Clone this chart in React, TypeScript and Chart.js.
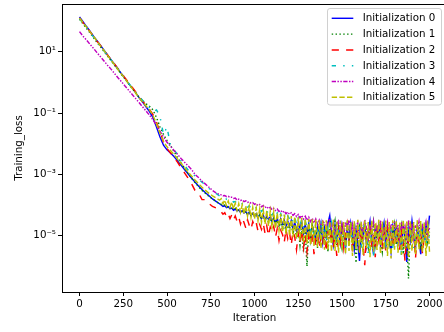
import React, { useEffect, useRef } from 'react';
import { Chart, registerables } from 'chart.js';

Chart.register(...registerables);

// Iteration numbers (x values): every 20 up to 800, then every 10
const iterations = [
  0, 20, 40, 60, 80, 100, 120, 140, 160, 180,
  200, 220, 240, 260, 280, 300, 320, 340, 360, 380,
  400, 420, 440, 460, 480, 500, 520, 540, 560, 580,
  600, 620, 640, 660, 680, 700, 720, 740, 760, 780,
  800,
  810, 820, 830, 840, 850, 860, 870, 880, 890, 900,
  910, 920, 930, 940, 950, 960, 970, 980, 990, 1000,
  1010, 1020, 1030, 1040, 1050, 1060, 1070, 1080, 1090, 1100,
  1110, 1120, 1130, 1140, 1150, 1160, 1170, 1180, 1190, 1200,
  1210, 1220, 1230, 1240, 1250, 1260, 1270, 1280, 1290, 1300,
  1310, 1320, 1330, 1340, 1350, 1360, 1370, 1380, 1390, 1400,
  1410, 1420, 1430, 1440, 1450, 1460, 1470, 1480, 1490, 1500,
  1510, 1520, 1530, 1540, 1550, 1560, 1570, 1580, 1590, 1600,
  1610, 1620, 1630, 1640, 1650, 1660, 1670, 1680, 1690, 1700,
  1710, 1720, 1730, 1740, 1750, 1760, 1770, 1780, 1790, 1800,
  1810, 1820, 1830, 1840, 1850, 1860, 1870, 1880, 1890, 1900,
  1910, 1920, 1930, 1940, 1950, 1960, 1970, 1980, 1990, 2000,
];

const loss0 = [
  135, 95, 66, 47, 32, 23, 16, 11.2, 7.9, 5.5,
  3.9, 2.75, 1.9, 1.35, 0.93, 0.66, 0.47, 0.32, 0.23, 0.16,
  0.112, 0.071, 0.035, 0.0166, 0.0089, 0.0063, 0.005, 0.0038, 0.00275, 0.002,
  0.00145, 0.00105, 0.00076, 0.00056, 0.00042, 0.00032, 0.00025, 0.0002, 0.000158, 0.000132,
  0.00011,
  1.0e-4, 9e-5, 9.5e-5, 8.2e-5, 8.8e-5, 7.6e-5, 8e-5, 6.8e-5, 7.4e-5, 6.5e-5,
  6.9e-5, 5.8e-5, 6.6e-5, 5.5e-5, 6.2e-5, 4.9e-5, 5.8e-5, 4.6e-5, 5.4e-5, 4.3e-5,
  5.2e-5, 3.8e-5, 4.9e-5, 3.6e-5, 4.7e-5, 3.2e-5, 4.4e-5, 3.4e-5, 4.1e-5, 2.9e-5,
  3.9e-5, 2.6e-5, 3.7e-5, 2.2e-5, 3.5e-5, 2.4e-5, 3.2e-5, 1.9e-5, 3e-5, 2.1e-5,
  3.1e-5, 1.6e-5, 2.8e-5, 1.4e-5, 2.6e-5, 1.7e-5, 2.9e-5, 1.2e-5, 2.4e-5, 1.1e-5,
  2.5e-5, 9e-6, 2.2e-5, 1.3e-5, 7e-6, 2.1e-5, 1e-5, 2.4e-5, 6e-6, 1.8e-5,
  9e-6, 2.6e-5, 4.5e-5, 1.1e-5, 5e-6, 2.2e-5, 8e-6, 1.9e-5, 6e-6, 2.3e-5,
  1.2e-5, 4e-6, 1.8e-5, 7e-6, 2.5e-5, 1e-5, 3.5e-6, 1.6e-5, 6e-6, 1.5e-6,
  1.9e-5, 8e-6, 2.6e-5, 5e-6, 1.4e-5, 3e-5, 7e-6, 2.5e-6, 1.7e-5, 9e-6,
  2.2e-5, 5e-6, 1.3e-5, 2.6e-5, 4e-6, 1.8e-5, 8e-6, 3e-6, 2e-5, 1.1e-5,
  2.4e-5, 6e-6, 1.5e-5, 3.5e-6, 2.1e-5, 9e-6, 1.4e-6, 1.6e-5, 7e-6, 3e-5,
  1e-5, 4e-6, 2e-5, 7e-6, 2.5e-6, 1.8e-5, 9e-6, 2.4e-5, 1.2e-5, 4.5e-5,
];

const loss1 = [
  115, 81, 58, 41, 29, 20, 14.5, 10.2, 7.2, 5.1,
  3.6, 2.6, 1.8, 1.3, 0.91, 0.65, 0.46, 0.33, 0.25, 0.2,
  0.166, 0.126, 0.071, 0.035, 0.02, 0.0126, 0.0089, 0.0056, 0.0035, 0.0024,
  0.0016, 0.00107, 0.00076, 0.00054, 0.0004, 0.0003, 0.00024, 0.00019, 0.000158, 0.000132,
  0.000112,
  1.05e-4, 9.5e-5, 1e-4, 8.6e-5, 9.2e-5, 7.8e-5, 8.5e-5, 7e-5, 7.8e-5, 6.6e-5,
  7.2e-5, 6e-5, 6.8e-5, 5.4e-5, 6.3e-5, 5e-5, 5.8e-5, 4.6e-5, 5.5e-5, 4.4e-5,
  5.2e-5, 3.9e-5, 4.8e-5, 3.5e-5, 4.5e-5, 3.1e-5, 4.1e-5, 2.8e-5, 3.8e-5, 2.5e-5,
  3.6e-5, 2.2e-5, 3.3e-5, 1.9e-5, 3e-5, 1.5e-5, 2.7e-5, 1.2e-5, 2.5e-5, 1.6e-5,
  2.6e-5, 1.1e-5, 2.2e-5, 8e-6, 1.9e-5, 5e-6, 1.7e-5, 3e-6, 1.4e-5, 1e-6,
  1.8e-5, 7e-6, 2.3e-5, 9e-6, 1.5e-5, 4e-6, 2e-5, 1.1e-5, 2.6e-5, 6e-6,
  1.7e-5, 3e-6, 2.1e-5, 8e-6, 1.3e-5, 2.9e-5, 5e-6, 1.6e-5, 9e-6, 4e-6,
  1.5e-5, 7e-6, 2.4e-5, 1e-5, 2.8e-5, 5e-6, 1.5e-5, 1.3e-6, 1.1e-5, 2e-5,
  6e-6, 1.8e-5, 2.3e-5, 8e-6, 4e-6, 1.6e-5, 1e-5, 2.7e-5, 5e-6, 1.3e-5,
  2.5e-5, 7e-6, 3e-6, 1.5e-5, 9e-6, 2.2e-5, 6e-6, 1.7e-5, 1.1e-5, 2.4e-5,
  5e-6, 1.6e-5, 8e-6, 2e-5, 2.5e-6, 1.3e-5, 7e-6, 4e-7, 1.5e-5, 1e-5,
  2.1e-5, 5e-6, 1.4e-5, 2e-5, 3.5e-6, 1.2e-5, 8e-6, 1.8e-5, 6e-6, 1.3e-5,
];

const loss2 = [
  126, 89, 63, 45, 32, 22, 16, 11.2, 7.9, 5.6,
  4.0, 2.8, 2.0, 1.4, 1.0, 0.71, 0.5, 0.35, 0.25, 0.18,
  0.13, 0.089, 0.05, 0.025, 0.0112, 0.007, 0.005, 0.0035, 0.0025, 0.00166,
  0.00112, 0.00076, 0.0005, 0.0003, 0.00025, 0.00015, 0.00015, 0.000112, 0.00009, 0.00008,
  0.000063,
  6e-5, 5e-5, 5.6e-5, 4.2e-5, 5.2e-5, 3.6e-5, 4.8e-5, 3.3e-5, 4.4e-5, 3e-5,
  4.1e-5, 2.4e-5, 3.7e-5, 2.7e-5, 1.8e-5, 3.3e-5, 2.2e-5, 1.6e-5, 2.9e-5, 2e-5,
  2.6e-5, 1.4e-5, 2.3e-5, 1.6e-5, 2.5e-5, 1.2e-5, 2.1e-5, 1e-5, 1.9e-5, 1.3e-5,
  2e-5, 9e-6, 1.7e-5, 7e-6, 1.5e-5, 1.1e-5, 6e-6, 1.6e-5, 8e-6, 1.3e-5,
  5e-6, 1.4e-5, 9e-6, 3.5e-6, 1.2e-5, 6e-6, 1.5e-5, 4e-6, 1.1e-5, 3e-6,
  1e-5, 5e-6, 1.3e-5, 2.5e-6, 8e-6, 1.2e-5, 4e-6, 9e-6, 6e-6, 1.1e-5,
  3e-6, 1.4e-5, 7e-6, 1.6e-5, 4e-6, 1.1e-5, 2.2e-6, 1.5e-5, 6e-6, 1.8e-5,
  4e-6, 1.2e-5, 2.5e-5, 7e-6, 1.5e-5, 3e-6, 1.9e-5, 6e-6, 1.3e-5, 3.5e-6,
  1.6e-5, 5e-6, 1.1e-6, 1.4e-5, 8e-6, 2.2e-5, 4e-6, 1.2e-5, 2e-6, 1.7e-5,
  7e-6, 2e-5, 5e-6, 1.3e-5, 3e-6, 1.8e-5, 8e-6, 1.5e-5, 4e-6, 1.2e-5,
  6e-6, 1.9e-5, 3.5e-6, 1.4e-5, 7e-6, 1.5e-6, 1.3e-5, 5e-6, 1.8e-5, 8e-6,
  1.5e-5, 1.8e-6, 1.1e-5, 6e-6, 1.4e-5, 2.5e-6, 1.2e-5, 7e-6, 1.6e-5, 1e-5,
];

const loss3 = [
  120, 85, 60, 43, 30, 21, 15, 10.7, 7.6, 5.4,
  3.8, 2.7, 1.9, 1.35, 0.95, 0.68, 0.48, 0.35, 0.26, 0.2,
  0.15, 0.112, 0.126, 0.076, 0.02, 0.035, 0.0089, 0.0063, 0.0045, 0.0028,
  0.002, 0.0014, 0.00112, 0.00089, 0.0007, 0.00056, 0.00045, 0.00035, 0.00028, 0.00024,
  0.0002,
  1.85e-4, 1.7e-4, 1.75e-4, 1.55e-4, 1.6e-4, 1.4e-4, 1.45e-4, 1.25e-4, 1.3e-4, 1.12e-4,
  1.2e-4, 1.02e-4, 1.1e-4, 9.2e-5, 1.02e-4, 8.6e-5, 9.4e-5, 7.8e-5, 8.8e-5, 7.6e-5,
  8.2e-5, 6.8e-5, 7.8e-5, 6.2e-5, 7.2e-5, 5.6e-5, 6.6e-5, 5.1e-5, 6.1e-5, 4.7e-5,
  5.8e-5, 4.3e-5, 5.5e-5, 3.9e-5, 5.2e-5, 3.6e-5, 4.8e-5, 3.3e-5, 4.5e-5, 3.5e-5,
  4.3e-5, 2.8e-5, 4e-5, 2.4e-5, 3.7e-5, 2.2e-5, 3.4e-5, 1.8e-5, 3e-5, 1.9e-5,
  2.9e-5, 1.4e-5, 2.7e-5, 1.1e-5, 2.5e-5, 1.6e-5, 9e-6, 2.4e-5, 1.3e-5, 2.1e-5,
  7e-6, 1.9e-5, 1.1e-5, 2.6e-5, 8e-6, 2e-5, 5e-6, 1.7e-5, 1e-5, 5e-6,
  1.6e-5, 3.5e-6, 2.1e-5, 9e-6, 1.4e-5, 7e-6, 2.3e-5, 5e-6, 1.2e-5, 1.7e-5,
  4e-6, 1.5e-5, 2.4e-5, 8e-6, 2.5e-6, 1.3e-5, 6e-6, 2.2e-6, 1.6e-5, 9e-6,
  1.9e-5, 6e-6, 2.6e-5, 1e-5, 5e-6, 1.6e-5, 8e-6, 2.1e-5, 4e-6, 1.4e-5,
  9e-6, 3.5e-6, 1.8e-5, 2e-6, 1.2e-5, 1.6e-5, 6e-6, 2.2e-5, 8e-6, 2e-5,
  4e-6, 1.4e-5, 1.2e-5, 7e-6, 2.5e-5, 8e-6, 1.8e-5, 5e-6, 2.4e-5, 7e-6,
];

const loss4 = [
  45, 32, 24, 17.4, 12.9, 9.3, 6.8, 5.0, 3.6, 2.7,
  1.95, 1.41, 1.05, 0.76, 0.56, 0.41, 0.3, 0.22, 0.16, 0.117,
  0.085, 0.06, 0.04, 0.025, 0.0166, 0.0112, 0.0083, 0.006, 0.0045, 0.0033,
  0.0025, 0.0019, 0.00145, 0.001, 0.00079, 0.0006, 0.00048, 0.00038, 0.0003, 0.00025,
  0.00022,
  2.15e-4, 2e-4, 2.05e-4, 1.88e-4, 1.92e-4, 1.78e-4, 1.8e-4, 1.65e-4, 1.7e-4, 1.45e-4,
  1.55e-4, 1.42e-4, 1.48e-4, 1.3e-4, 1.38e-4, 1.22e-4, 1.28e-4, 1.15e-4, 1.2e-4, 1.05e-4,
  1.12e-4, 9.6e-5, 1.05e-4, 8.8e-5, 9.6e-5, 8.2e-5, 9e-5, 7.6e-5, 8.4e-5, 7e-5,
  7.8e-5, 6.6e-5, 7.4e-5, 6.2e-5, 6.8e-5, 5.7e-5, 6.4e-5, 5.2e-5, 5.9e-5, 5e-5,
  5.6e-5, 4.6e-5, 5.2e-5, 4.2e-5, 4.9e-5, 3.8e-5, 4.6e-5, 3.5e-5, 4.3e-5, 3.2e-5,
  4e-5, 2.9e-5, 3.7e-5, 2.6e-5, 3.5e-5, 2.3e-5, 3.2e-5, 2.1e-5, 3e-5, 2.5e-5,
  1.8e-5, 2.9e-5, 3.6e-5, 1.5e-5, 2.6e-5, 1.2e-5, 2.4e-5, 3e-5, 1.4e-5, 2.2e-5,
  1e-5, 2.8e-5, 1.6e-5, 3.2e-5, 1.1e-5, 2.3e-5, 8e-6, 1.9e-5, 2.7e-5, 9e-6,
  2.5e-5, 1.3e-5, 3.3e-5, 1.8e-5, 8e-6, 2.4e-5, 1.2e-5, 2.9e-5, 1e-5, 2.2e-5,
  1.5e-5, 3.1e-5, 7e-6, 2e-5, 1.3e-5, 2.7e-5, 9e-6, 2.4e-5, 1.6e-5, 3e-5,
  1.1e-5, 2.3e-5, 7e-6, 2.8e-5, 1.4e-5, 2.1e-5, 9e-6, 3.2e-5, 1.2e-5, 2.5e-5,
  8e-6, 2.2e-5, 1.5e-5, 2.9e-5, 1e-5, 2.4e-5, 1.3e-5, 2.7e-5, 9e-6, 1.8e-5,
];

const loss5 = [
  126, 89, 63, 45, 32, 22, 15.5, 11, 7.6, 5.4,
  3.8, 2.6, 1.86, 1.32, 0.91, 0.65, 0.46, 0.32, 0.23, 0.17,
  0.126, 0.083, 0.045, 0.022, 0.012, 0.0079, 0.006, 0.0044, 0.0032, 0.0023,
  0.00166, 0.0012, 0.00089, 0.00066, 0.0005, 0.00038, 0.0003, 0.00024, 0.0002, 0.00017,
  0.000145,
  1.6e-4, 1.1e-4, 1.45e-4, 9.5e-5, 1.35e-4, 8.5e-5, 1.25e-4, 7.5e-5, 1.15e-4, 6.6e-5,
  1.1e-4, 5.8e-5, 1.02e-4, 5e-5, 9.5e-5, 4.4e-5, 9e-5, 3.9e-5, 8.4e-5, 3.5e-5,
  8e-5, 3.1e-5, 7.5e-5, 2.7e-5, 7e-5, 2.4e-5, 6.5e-5, 2.1e-5, 6.2e-5, 1.9e-5,
  5.9e-5, 1.7e-5, 5.6e-5, 1.5e-5, 5.2e-5, 1.3e-5, 4.9e-5, 1.15e-5, 4.6e-5, 1e-5,
  4.4e-5, 9e-6, 4.2e-5, 8e-6, 4e-5, 7e-6, 3.8e-5, 6e-6, 3.6e-5, 5.5e-6,
  3.5e-5, 5e-6, 3.4e-5, 4.6e-6, 3.3e-5, 4.2e-6, 3.2e-5, 3.8e-6, 3.1e-5, 3.5e-6,
  3.2e-5, 3.5e-6, 3e-5, 3e-6, 3.3e-5, 3.2e-6, 2.9e-5, 2.8e-6, 3.1e-5, 3.5e-6,
  2.8e-5, 2.5e-6, 3.2e-5, 3.2e-6, 2.7e-5, 2.2e-6, 3e-5, 3.8e-6, 3.3e-5, 2.8e-6,
  2.9e-5, 2.4e-6, 3.1e-5, 4e-6, 2.8e-5, 2e-6, 3.2e-5, 3e-6, 2.7e-5, 3.4e-6,
  3.3e-5, 2.6e-6, 2.9e-5, 3.6e-6, 3.1e-5, 2.2e-6, 2.8e-5, 1.8e-6, 3.2e-5, 3.5e-6,
  3e-5, 2.8e-6, 2.7e-5, 2.4e-6, 3.3e-5, 3.8e-6, 2.9e-5, 1.9e-6, 3.1e-5, 3.2e-6,
  2.8e-5, 2.5e-6, 3.2e-5, 3.6e-6, 3e-5, 2.9e-6, 2.7e-5, 2.2e-6, 3.1e-5, 3e-6,
];

const seriesValues = [loss0, loss1, loss2, loss3, loss4, loss5];
const seriesNames = [
  'Initialization 0',
  'Initialization 1',
  'Initialization 2',
  'Initialization 3',
  'Initialization 4',
  'Initialization 5',
];
const seriesColors = ['#0000ff', '#008000', '#ff0000', '#00bfbf', '#bf00bf', '#bfbf00'];
const seriesDashes = [
  [],
  [1.45, 2.4],
  [7.2, 7.2],
  [4.3, 7.2, 1.45, 7.2],
  [4.3, 1.45, 1.45, 1.45, 1.45, 1.45],
  [5.35, 2.3],
];

const xTicks = [0, 250, 500, 750, 1000, 1250, 1500, 1750, 2000];
const yTicks = [1e-5, 1e-3, 1e-1, 1e1];
const yTickLabels = ['10⁻⁵', '10⁻³', '10⁻¹', '10¹'];

const FONT_FAMILY = '"DejaVu Sans", sans-serif';
const FONT_SIZE = 10.3;

const decorPlugin = {
  id: 'decor',
  afterDraw(chart: any) {
    const { ctx, chartArea } = chart;
    const { left, right, top, bottom } = chartArea;
    ctx.save();
    ctx.strokeStyle = '#000';
    ctx.lineWidth = 1;
    ctx.setLineDash([]);
    ctx.beginPath();
    ctx.moveTo(left, Math.round(top) + 0.5);
    ctx.lineTo(right, Math.round(top) + 0.5);
    ctx.moveTo(Math.round(right) + 0.5, top);
    ctx.lineTo(Math.round(right) + 0.5, bottom);
    ctx.stroke();

    ctx.fillStyle = '#000';
    ctx.font = `${FONT_SIZE}px ${FONT_FAMILY}`;
    ctx.textAlign = 'center';
    ctx.textBaseline = 'middle';
    ctx.fillText('Iteration', (left + right) / 2, 318.7);
    ctx.save();
    ctx.translate(19.5, (top + bottom) / 2);
    ctx.rotate(-Math.PI / 2);
    ctx.fillText('Training_loss', 0, 0);
    ctx.restore();

    const bx = 327.5, by = 8.5, bw = 114, bh = 96.5, r = 2.5;
    ctx.beginPath();
    ctx.moveTo(bx + r, by);
    ctx.lineTo(bx + bw - r, by);
    ctx.arcTo(bx + bw, by, bx + bw, by + r, r);
    ctx.lineTo(bx + bw, by + bh - r);
    ctx.arcTo(bx + bw, by + bh, bx + bw - r, by + bh, r);
    ctx.lineTo(bx + r, by + bh);
    ctx.arcTo(bx, by + bh, bx, by + bh - r, r);
    ctx.lineTo(bx, by + r);
    ctx.arcTo(bx, by, bx + r, by, r);
    ctx.closePath();
    ctx.fillStyle = 'rgba(255,255,255,0.8)';
    ctx.fill();
    ctx.strokeStyle = '#d0d0d0';
    ctx.lineWidth = 1;
    ctx.stroke();

    ctx.textAlign = 'left';
    ctx.textBaseline = 'middle';
    for (let i = 0; i < seriesNames.length; i++) {
      const y = 18.3 + i * 15.8;
      ctx.strokeStyle = seriesColors[i];
      ctx.lineWidth = 1.45;
      ctx.setLineDash(seriesDashes[i]);
      ctx.beginPath();
      ctx.moveTo(331.7, y);
      ctx.lineTo(353.3, y);
      ctx.stroke();
      ctx.setLineDash([]);
      ctx.fillStyle = '#000';
      ctx.fillText(seriesNames[i], 362.7, y + 0.5);
    }
    ctx.restore();
  },
};

export default function App() {
  const canvasRef = useRef<HTMLCanvasElement | null>(null);

  useEffect(() => {
    const canvas = canvasRef.current;
    if (!canvas) return;
    const font = { family: FONT_FAMILY, size: FONT_SIZE };
    const chart = new Chart(canvas, {
      type: 'line',
      data: {
        datasets: seriesValues.map((vals, i) => ({
          label: seriesNames[i],
          data: iterations.map((x, j) => ({ x, y: vals[j] })),
          borderColor: seriesColors[i],
          backgroundColor: seriesColors[i],
          borderWidth: 1.45,
          borderDash: seriesDashes[i],
          pointRadius: 0,
          fill: false,
          tension: 0,
          order: 5 - i,
        })),
      },
      options: {
        animation: false,
        responsive: false,
        events: [],
        layout: { padding: { left: 0, right: 5, top: 4, bottom: 0 } },
        plugins: {
          legend: { display: false },
          tooltip: { enabled: false },
        },
        scales: {
          x: {
            type: 'linear',
            min: -100,
            max: 2100,
            afterFit: (s: any) => {
              s.height = 40;
              s.paddingLeft = 0;
              s.paddingRight = 0;
            },
            afterBuildTicks: (s: any) => {
              s.ticks = xTicks.map((v) => ({ value: v }));
            },
            ticks: {
              font,
              color: '#000',
              padding: 2,
              maxRotation: 0,
              autoSkip: false,
              callback: (v: any) => String(v),
            },
            grid: {
              drawOnChartArea: false,
              drawTicks: true,
              tickLength: 4,
              tickColor: '#000',
              tickWidth: 1,
            },
            border: { display: true, color: '#000', width: 1 },
          },
          y: {
            type: 'logarithmic',
            min: 1.46e-7,
            max: 359,
            afterFit: (s: any) => {
              s.width = 62;
              s.paddingTop = 0;
              s.paddingBottom = 0;
            },
            afterBuildTicks: (s: any) => {
              s.ticks = yTicks.map((v) => ({ value: v }));
            },
            ticks: {
              font,
              color: '#000',
              padding: 2,
              autoSkip: false,
              callback: (_v: any, idx: number) => yTickLabels[idx],
            },
            grid: {
              drawOnChartArea: false,
              drawTicks: true,
              tickLength: 4,
              tickColor: '#000',
              tickWidth: 1,
            },
            border: { display: true, color: '#000', width: 1 },
          },
        },
      },
      plugins: [decorPlugin],
    } as any);
    return () => {
      chart.destroy();
    };
  }, []);

  return (
    <div
      style={{
        position: 'fixed',
        left: 0,
        top: 0,
        width: 444,
        height: 332,
        overflow: 'hidden',
        background: '#fff',
      }}
    >
      <canvas ref={canvasRef} width={452} height={332} style={{ display: 'block' }} />
    </div>
  );
}
